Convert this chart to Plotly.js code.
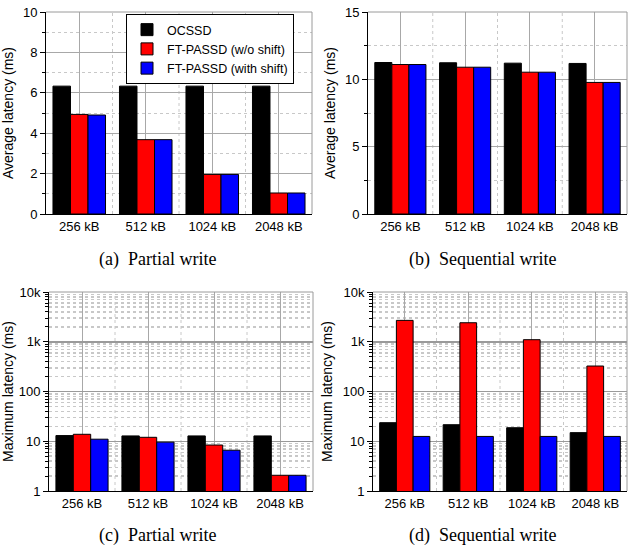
<!DOCTYPE html>
<html>
<head>
<meta charset="utf-8">
<script src="https://cdn.plot.ly/plotly-3.0.1.min.js"></script>
<style>html,body{margin:0;padding:0;background:#fff;}#chart{width:628px;height:549px;}</style>
</head>
<body>
<div id="chart"></div>
<script>
// ---- data ----
const categories = ["256 kB", "512 kB", "1024 kB", "2048 kB"];
const seriesNames = ["OCSSD", "FT-PASSD (w/o shift)", "FT-PASSD (with shift)"];
const seriesColors = ["#000000", "#ff0000", "#0000ff"];

// (a) Partial write, average latency (ms)
const avgPartialOCSSD = [6.33, 6.33, 6.33, 6.33];
const avgPartialNoShift = [4.93, 3.68, 1.96, 1.04];
const avgPartialShift = [4.90, 3.68, 1.96, 1.04];

// (b) Sequential write, average latency (ms)
const avgSeqOCSSD = [11.25, 11.23, 11.20, 11.18];
const avgSeqNoShift = [11.10, 10.90, 10.53, 9.77];
const avgSeqShift = [11.10, 10.90, 10.53, 9.77];

// (c) Partial write, maximum latency (ms)
const maxPartialOCSSD = [13.0, 12.8, 12.8, 12.8];
const maxPartialNoShift = [13.8, 12.0, 8.4, 2.07];
const maxPartialShift = [11.0, 9.6, 6.6, 2.07];

// (d) Sequential write, maximum latency (ms)
const maxSeqOCSSD = [23.6, 21.5, 18.7, 14.9];
const maxSeqNoShift = [2690, 2410, 1100, 325];
const maxSeqShift = [12.5, 12.5, 12.5, 12.5];

const logTickVals = [1, 10, 100, 1000, 10000];
const logTickText = ["1", "10", "100", "1k", "10k"];
const captions = ["(a)  Partial write", "(b)  Sequential write", "(c)  Partial write", "(d)  Sequential write"];

// ---- build ----
const panels = [
  {ax: "", data: [avgPartialOCSSD, avgPartialNoShift, avgPartialShift], legend: true},
  {ax: "2", data: [avgSeqOCSSD, avgSeqNoShift, avgSeqShift]},
  {ax: "3", data: [maxPartialOCSSD, maxPartialNoShift, maxPartialShift]},
  {ax: "4", data: [maxSeqOCSSD, maxSeqNoShift, maxSeqShift]}
];

const traces = [];
panels.forEach(p => {
  p.data.forEach((vals, i) => {
    traces.push({
      type: "bar",
      x: categories,
      y: vals,
      name: seriesNames[i],
      xaxis: "x" + p.ax,
      yaxis: "y" + p.ax,
      showlegend: !!p.legend,
      marker: {color: seriesColors[i], line: {color: "#000000", width: 1}}
    });
  });
});

const W = 628, H = 549;
const font = {family: "Liberation Sans, Arial, sans-serif", size: 13, color: "#000"};
const gridMajor = "#a8a8a8";
const gridMinor = "#c8c8c8";

function xaxis(x0, x1, anchor) {
  return {
    domain: [x0 / W, x1 / W], anchor: anchor, type: "category",
    showline: true, linecolor: "#000", linewidth: 1,
    showgrid: true, gridcolor: gridMajor, gridwidth: 1,
    ticks: "", tickfont: {size: 13}, fixedrange: true,
    range: [-0.5, categories.length - 0.5]
  };
}
function yaxisLin(y0, y1, anchor, max, dtick, title) {
  return {
    domain: [1 - y1 / H, 1 - y0 / H], anchor: anchor,
    range: [0, max], dtick: dtick, tick0: 0,
    showline: true, linecolor: "#000", linewidth: 1,
    ticks: "outside", ticklen: 5, tickcolor: "#000",
    showgrid: true, gridcolor: gridMajor, gridwidth: 1, zeroline: false,
    minor: {dtick: dtick / 2, showgrid: true, gridcolor: gridMinor, griddash: "dot", ticks: "outside", ticklen: 3, tickcolor: "#000"},
    title: {text: title, font: {size: 14}, standoff: 6},
    tickfont: {size: 13}
  };
}
function yaxisLog(y0, y1, anchor, title) {
  return {
    domain: [1 - y1 / H, 1 - y0 / H], anchor: anchor, type: "log",
    range: [0, 4], tickmode: "array", tickvals: logTickVals, ticktext: logTickText,
    showline: true, linecolor: "#000", linewidth: 1,
    ticks: "outside", ticklen: 5, tickcolor: "#000",
    showgrid: true, gridcolor: "#9a9a9a", gridwidth: 1.5, zeroline: false,
    minor: {dtick: "D1", showgrid: true, gridcolor: gridMinor, griddash: "dot", ticks: "outside", ticklen: 3, tickcolor: "#000"},
    title: {text: title, font: {size: 14}, standoff: 6},
    tickfont: {size: 13}
  };
}

const shapes = [];
["", "2", "3", "4"].forEach(ax => {
  // top and right frame lines
  shapes.push({type: "line", xref: "x" + ax + " domain", yref: "y" + ax + " domain", x0: 0, x1: 1, y0: 1, y1: 1, line: {color: "#9a9a9a", width: 1}, layer: "above"});
  shapes.push({type: "line", xref: "x" + ax + " domain", yref: "y" + ax + " domain", x0: 1, x1: 1, y0: 0, y1: 1, line: {color: "#9a9a9a", width: 1}, layer: "above"});
  // dotted category boundaries
  for (let i = 1; i < categories.length; i++) {
    shapes.push({type: "line", xref: "x" + ax, yref: "y" + ax + " domain", x0: i - 0.5, x1: i - 0.5, y0: 0, y1: 1, line: {color: gridMinor, width: 1, dash: "dot"}, layer: "below"});
  }
});

const capFont = {family: "Liberation Serif, Times New Roman, serif", size: 18, color: "#000"};
const annotations = [
  {text: captions[0], x: 157 / W, y: 1 - 260 / H},
  {text: captions[1], x: 482 / W, y: 1 - 260 / H},
  {text: captions[2], x: 157 / W, y: 1 - 535 / H},
  {text: captions[3], x: 482 / W, y: 1 - 535 / H}
].map(a => Object.assign(a, {xref: "paper", yref: "paper", showarrow: false, xanchor: "center", yanchor: "middle", font: capFont}));

const layout = {
  width: W, height: H,
  margin: {l: 0, r: 0, t: 0, b: 0},
  paper_bgcolor: "#fff", plot_bgcolor: "#fff",
  font: font,
  barmode: "group", bargap: 0.21, bargroupgap: 0,
  showlegend: true,
  legend: {
    x: 294 / W, y: 1 - 14 / H, xanchor: "right", yanchor: "top",
    bordercolor: "#000", borderwidth: 1, bgcolor: "#fff",
    font: {size: 12.5}, tracegroupgap: 0, itemwidth: 30
  },
  xaxis: xaxis(46, 312, "y"),
  yaxis: yaxisLin(12, 214, "x", 10, 2, "Average latency (ms)"),
  xaxis2: xaxis(368, 627, "y2"),
  yaxis2: yaxisLin(12, 214, "x2", 15, 5, "Average latency (ms)"),
  xaxis3: xaxis(49, 313, "y3"),
  yaxis3: yaxisLog(292, 491, "x3", "Maximum latency (ms)"),
  xaxis4: xaxis(373, 627, "y4"),
  yaxis4: yaxisLog(292, 491, "x4", "Maximum latency (ms)"),
  shapes: shapes,
  annotations: annotations
};

Plotly.newPlot("chart", traces, layout, {staticPlot: true, displayModeBar: false});
</script>
</body>
</html>
